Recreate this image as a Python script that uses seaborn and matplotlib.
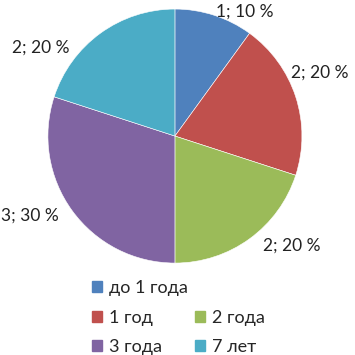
import matplotlib
matplotlib.use("Agg")
import matplotlib.pyplot as plt
import seaborn as sns
from matplotlib.patches import Patch

categories = ["до 1 года", "1 год", "2 года", "3 года", "7 лет"]
counts = [1, 2, 2, 3, 2]
percents = [10, 20, 20, 30, 20]
colors = ["#4F81BD", "#C0504D", "#9BBB59", "#8064A2", "#4BACC6"]
# label positions in pie-radius units (text styling)
label_pos = [(0.55, 0.98), (1.14, 0.50), (0.92, -0.86), (-1.14, -0.63), (-1.06, 0.70)]

sns.set_theme(style="white")
plt.rcParams["font.family"] = ["Lato", "DejaVu Sans"]

fig = plt.figure(figsize=(3.55, 3.55), dpi=100)
ax = fig.add_axes([0.135, 0.259, 0.7155, 0.7155])
wedges, _ = ax.pie(counts, colors=sns.color_palette(colors), startangle=90,
                   counterclock=False, radius=1.0,
                   wedgeprops=dict(linewidth=0.4, edgecolor="white"))
ax.set_xlim(-1, 1)
ax.set_ylim(-1, 1)
ax.set_aspect("equal")
ax.axis("off")

for (x, y), c, p in zip(label_pos, counts, percents):
    ax.text(x, y, f"{c}; {p} %", ha="center", va="center", fontsize=12.5,
            color="#222222", clip_on=False)

handles = [Patch(color=col) for col in colors]
blank = Patch(color="none")
order_h = [handles[0], handles[1], handles[3], blank, handles[2], handles[4]]
order_l = [categories[0], categories[1], categories[3], "", categories[2], categories[4]]
fig.legend(order_h, order_l, ncol=2, loc="center", bbox_to_anchor=(0.502, 0.105),
           frameon=False, fontsize=13, handlelength=0.55, handleheight=0.55,
           handletextpad=0.4, columnspacing=0.4, labelspacing=0.75)

fig.savefig("out.png", dpi=100)
